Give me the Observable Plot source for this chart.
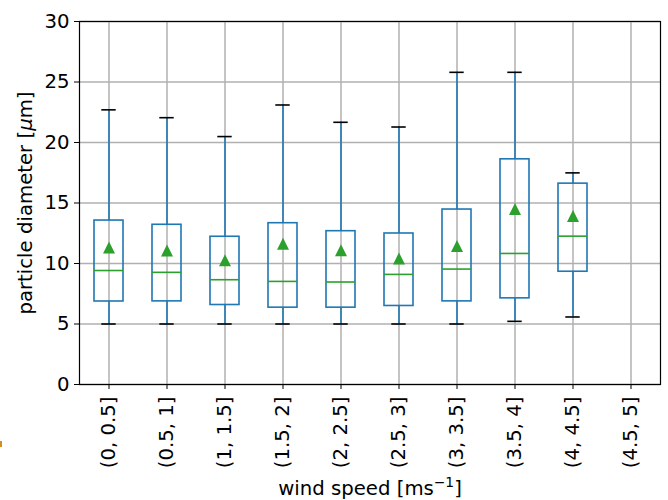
<!DOCTYPE html>
<html><head><meta charset="utf-8">
<script src="https://cdn.jsdelivr.net/npm/d3@7"></script>
<script src="https://cdn.jsdelivr.net/npm/@observablehq/plot@0.6"></script>
<style>
html,body{margin:0;padding:0;background:#fff;}
#chart{position:relative;width:668px;height:500px;}
#chart svg{display:block;}
#mark{position:absolute;left:0;top:441px;width:2px;height:6px;background:#d4901c;}
</style></head><body><div id="chart"><div id="mark"></div></div>
<script>
const categories = ["(0, 0.5]","(0.5, 1]","(1, 1.5]","(1.5, 2]","(2, 2.5]","(2.5, 3]","(3, 3.5]","(3.5, 4]","(4, 4.5]","(4.5, 5]"];
const whiskerLow  = [5.0, 5.0, 5.0, 5.0, 5.0, 5.0, 5.0, 5.22, 5.58, null];
const q1          = [6.86, 6.87, 6.57, 6.35, 6.35, 6.49, 6.87, 7.12, 9.32, null];
const median      = [9.42, 9.27, 8.66, 8.52, 8.47, 9.10, 9.54, 10.83, 12.26, null];
const q3          = [13.55, 13.20, 12.21, 13.33, 12.67, 12.48, 14.46, 18.61, 16.60, null];
const whiskerHigh = [22.70, 22.05, 20.49, 23.10, 21.67, 21.28, 25.80, 25.80, 17.49, null];
const means       = [11.33, 11.07, 10.27, 11.64, 11.10, 10.42, 11.44, 14.50, 13.93, null];
const yTicks = [0, 5, 10, 15, 20, 25, 30];
const yLabel = "particle diameter [μm]";
const xLabel = "wind speed [ms−1]";

const rows = categories.map((c, i) => ({
  cat: c, lo: whiskerLow[i], q1: q1[i], med: median[i], q3: q3[i], hi: whiskerHigh[i], mean: means[i]
})).filter(d => d.q1 != null);

const blue = "#1f77b4", green = "#2ca02c", grid = "#b0b0b0";
const tri = {
  draw(ctx, size) {
    const s = Math.sqrt(size / Math.PI) * 1.2;
    ctx.moveTo(0, -s); ctx.lineTo(s, s); ctx.lineTo(-s, s); ctx.closePath();
  }
};

const svg = Plot.plot({
  width: 668, height: 500,
  marginLeft: 79, marginRight: 8, marginTop: 21, marginBottom: 116,
  x: {type: "band", domain: categories, paddingInner: 0.5, paddingOuter: 0.25},
  y: {domain: [0, 30]},
  style: {fontFamily: "'DejaVu Sans', sans-serif", fontSize: "19.7px", color: "black", background: "white"},
  marks: [
    Plot.gridY(yTicks, {stroke: grid, strokeOpacity: 1, strokeWidth: 1.5}),
    Plot.gridX({stroke: grid, strokeOpacity: 1, strokeWidth: 1.5}),
    Plot.ruleX(rows, {x: "cat", y1: "q3", y2: "hi", stroke: blue, strokeWidth: 1.6}),
    Plot.ruleX(rows, {x: "cat", y1: "lo", y2: "q1", stroke: blue, strokeWidth: 1.6}),
    Plot.barY(rows, {x: "cat", y1: "q1", y2: "q3", fill: "none", stroke: blue, strokeWidth: 1.6}),
    Plot.tickY(rows, {x: "cat", y: "med", stroke: green, strokeWidth: 1.6}),
    Plot.tickY(rows, {x: "cat", y: "hi", stroke: "black", strokeWidth: 1.6, insetLeft: 7.3, insetRight: 7.3}),
    Plot.tickY(rows, {x: "cat", y: "lo", stroke: "black", strokeWidth: 1.6, insetLeft: 7.3, insetRight: 7.3}),
    Plot.dot(rows, {x: "cat", y: "mean", symbol: tri, r: 5, fill: green, stroke: "none"}),
    Plot.frame({stroke: "black", strokeWidth: 1.2}),
    Plot.axisY(yTicks, {tickSize: 5, tickPadding: 5, label: null}),
    Plot.axisX({tickRotate: -90, tickSize: 5, tickPadding: 7, label: null}),
    Plot.text([yLabel], {text: d => d, frameAnchor: "left", textAnchor: "middle", lineAnchor: "middle", rotate: -90, dx: -54, fontSize: 19.7}),
    Plot.text([xLabel], {text: d => d, frameAnchor: "bottom", textAnchor: "middle", lineAnchor: "bottom", dy: 110, fontSize: 19.7})
  ]
});

const ns = "http://www.w3.org/2000/svg";
function rebuild(t, parts) {
  t.textContent = "";
  for (const [s, attrs] of parts) {
    const ts = document.createElementNS(ns, "tspan");
    ts.textContent = s;
    for (const k in attrs) ts.setAttribute(k, attrs[k]);
    t.appendChild(ts);
  }
}
for (const t of svg.querySelectorAll("text")) {
  if (t.textContent === yLabel) {
    rebuild(t, [["particle diameter [", {}], ["μ", {"font-style": "italic"}], ["m]", {}]]);
  } else if (t.textContent === xLabel) {
    rebuild(t, [["wind speed [ms", {}], ["−1", {"font-size": "13.8", "dy": "-8"}], ["]", {"dy": "8"}]]);
  }
}
document.getElementById("chart").appendChild(svg);
</script>
</body></html>
